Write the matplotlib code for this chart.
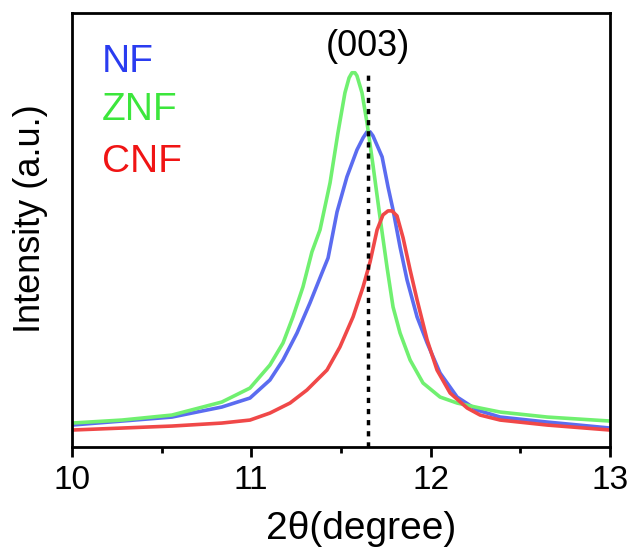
import matplotlib
matplotlib.use("Agg")
import matplotlib.pyplot as plt

plt.rcParams['font.family'] = ['Liberation Sans', 'DejaVu Sans']

# 2theta (degree) and normalised intensity for each sample
nf_2theta = [10.000, 10.279, 10.558, 10.836, 10.993, 11.104, 11.177, 11.255, 11.327, 11.394,
             11.428, 11.478, 11.533, 11.589, 11.623, 11.645, 11.662, 11.678, 11.729, 11.762,
             11.790, 11.829, 11.868, 11.924, 11.980, 12.052, 12.147, 12.258, 12.387, 12.649,
             13.000]
nf_int = [0.0507, 0.0599, 0.0691, 0.0922, 0.1129, 0.1544, 0.2005, 0.2627, 0.3318, 0.4009,
          0.4355, 0.5415, 0.6221, 0.6843, 0.7120, 0.7258, 0.7258, 0.7166, 0.6682, 0.5991,
          0.5461, 0.4608, 0.3848, 0.2995, 0.2396, 0.1705, 0.1152, 0.0853, 0.0691, 0.0576,
          0.0438]

znf_2theta = [10.000, 10.279, 10.558, 10.836, 10.993, 11.104, 11.177, 11.232, 11.288, 11.338,
              11.383, 11.439, 11.483, 11.522, 11.545, 11.561, 11.578, 11.589, 11.617, 11.645,
              11.678, 11.717, 11.757, 11.790, 11.829, 11.885, 11.957, 12.052, 12.147, 12.275,
              12.387, 12.649, 13.000]
znf_int = [0.0553, 0.0622, 0.0737, 0.1037, 0.1359, 0.1889, 0.2396, 0.2995, 0.3687, 0.4493,
           0.5000, 0.6083, 0.7235, 0.8157, 0.8502, 0.8618, 0.8618, 0.8548, 0.8157, 0.7465,
           0.6498, 0.5300, 0.4124, 0.3226, 0.2627, 0.2005, 0.1475, 0.1152, 0.1014, 0.0899,
           0.0806, 0.0691, 0.0599]

cnf_2theta = [10.000, 10.279, 10.558, 10.836, 10.993, 11.104, 11.216, 11.310, 11.422, 11.494,
              11.567, 11.623, 11.662, 11.701, 11.734, 11.762, 11.784, 11.812, 11.846, 11.885,
              11.924, 11.980, 12.035, 12.108, 12.203, 12.275, 12.387, 12.649, 13.000]
cnf_int = [0.0392, 0.0438, 0.0484, 0.0553, 0.0622, 0.0783, 0.1014, 0.1313, 0.1774, 0.2304,
           0.2995, 0.3687, 0.4263, 0.5000, 0.5346, 0.5438, 0.5438, 0.5323, 0.4816, 0.4078,
           0.3387, 0.2465, 0.1774, 0.1244, 0.0899, 0.0737, 0.0622, 0.0507, 0.0392]

peak_003 = 11.65
peak_top = 0.869

fig = plt.figure(figsize=(6.35, 5.54), dpi=100)
ax = fig.add_axes([0.113, 0.193, 0.848, 0.784])

line_kw = dict(lw=2.6, solid_joinstyle='round', solid_capstyle='round')
ax.plot(nf_2theta, nf_int, color='#5b6cf0', **line_kw)
ax.plot(znf_2theta, znf_int, color='#70f070', **line_kw)
ax.plot(cnf_2theta, cnf_int, color='#f04848', **line_kw)
ax.plot([peak_003, peak_003], [0, peak_top], color='black', lw=2.5,
        linestyle=(0, (1.5, 1.7)))
ax.text(peak_003, 0.922, '(003)', ha='center', va='center', fontsize=26)

ax.text(0.056, 0.864, 'NF', color='#2a3cf0', fontsize=28, transform=ax.transAxes)
ax.text(0.056, 0.753, 'ZNF', color='#3ce63c', fontsize=28, transform=ax.transAxes)
ax.text(0.056, 0.634, 'CNF', color='#f01414', fontsize=28, transform=ax.transAxes)

ax.set_xlim(10, 13)
ax.set_ylim(0, 1)
ax.set_xticks([10, 11, 12, 13])
ax.set_xticks([10.5, 11.5, 12.5], minor=True)
ax.set_yticks([])
ax.tick_params(axis='x', which='major', direction='out', length=7, width=2,
               labelsize=24, pad=6)
ax.tick_params(axis='x', which='minor', direction='out', length=4, width=2)
for s in ax.spines.values():
    s.set_linewidth(2)

ax.set_xlabel('2θ(degree)', fontsize=28)
ax.set_ylabel('Intensity (a.u.)', fontsize=26)
ax.xaxis.set_label_coords(0.537, -0.148)
ax.yaxis.set_label_coords(-0.045, 0.525)

fig.savefig('out.png', dpi=100)
